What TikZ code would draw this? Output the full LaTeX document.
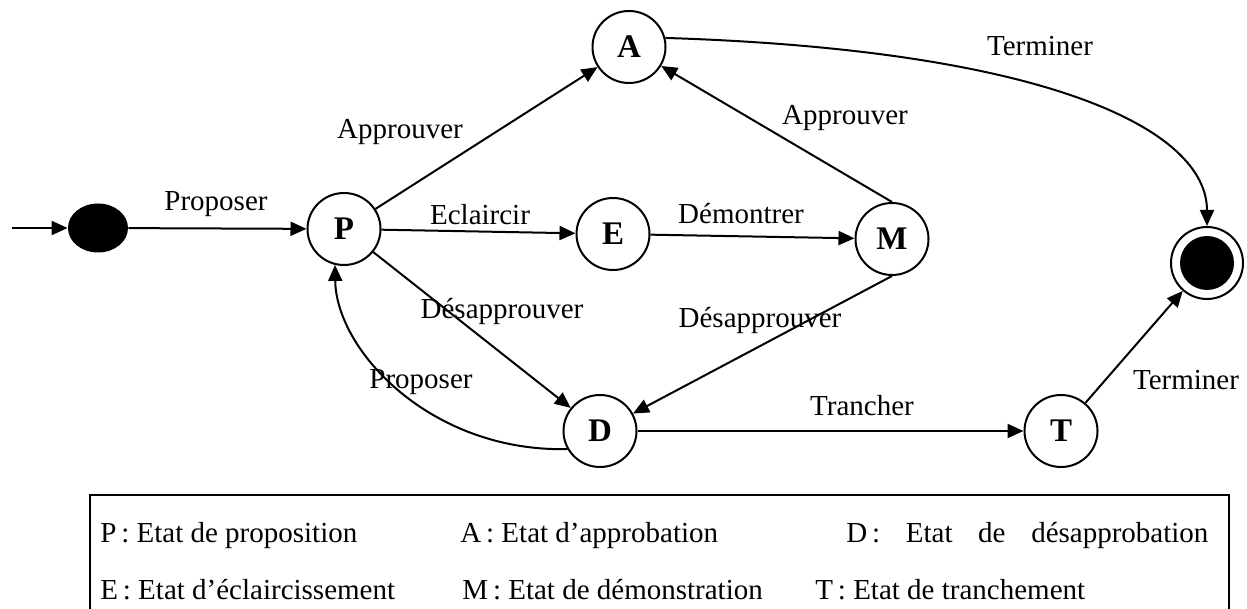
\documentclass[tikz,border=0pt]{standalone}
\usepackage{fontspec}
\setmainfont{Liberation Serif}
\usetikzlibrary{arrows.meta,shapes.geometric}
\begin{document}
\begin{tikzpicture}[x=0.5pt,y=-0.5pt,
  font=\fontsize{14.5}{17}\selectfont,
  state/.style={draw,line width=1pt,ellipse,inner sep=0pt,
    minimum width=36.5pt,minimum height=36pt,
    font=\fontsize{16.5}{18}\selectfont\bfseries},
  trans/.style={line width=1pt,-{Triangle[length=8pt,width=7pt]}},
  lbl/.style={inner sep=0pt},
  legend/.style={inner sep=0pt,anchor=base west}]
\useasboundingbox (0,0) rectangle (1247,609);

% states
\node[ellipse,fill=black,inner sep=0pt,minimum width=30pt,minimum height=24.5pt] (init) at (98,228) {};
\node[state] (P) at (344,229) {P};
\node[state] (A) at (629,47) {A};
\node[state] (E) at (613,234) {E};
\node[state] (M) at (892,239) {M};
\node[state] (D) at (600,431) {D};
\node[state] (T) at (1061,431) {T};
\node[circle,draw,line width=1pt,inner sep=0pt,minimum size=36pt] (final) at (1207,263) {};
\node[circle,fill=black,inner sep=0pt,minimum size=27pt] (finaldot) at (1207,263) {};
\coordinate (start) at (12,228);

% transitions
\draw[trans] (start) -- (init);
\draw[trans] (init) -- (P);
\draw[trans] (P) -- (A);
\draw[trans] (P) -- (E);
\draw[trans] (E) -- (M);
\draw[trans] (M.north) -- (A);
\draw[trans] (P) -- (D);
\draw[trans] (M.south) -- (D);
\draw[trans] (D) -- (T);
\draw[trans] (T) -- (final);
\draw[trans] (D.209) .. controls (430,452) and (336,350) .. (P.256);
\draw[trans] (A.14) .. controls (1050,50) and (1207,130) .. (final.north);

% transition labels
\node[lbl] (l1) at (216,204) {Proposer};
\node[lbl] (l2) at (400,132) {Approuver};
\node[lbl] (l3) at (480,215) {Eclaircir};
\node[lbl] (l4) at (741,214) {Démontrer};
\node[lbl] (l5) at (845,118) {Approuver};
\node[lbl] (l6) at (1040,46) {Terminer};
\node[lbl] (l7) at (502,312) {Désapprouver};
\node[lbl] (l8) at (760,321) {Désapprouver};
\node[lbl] (l9) at (421,382) {Proposer};
\node[lbl] (l10) at (862,406) {Trancher};
\node[lbl] (l11) at (1186,380) {Terminer};

% legend
\draw[line width=1pt] (90,620) -- (90,495) -- (1229,495) -- (1229,620);
\node[legend] (kP) at (100,542) {P\,: Etat de proposition};
\node[legend] (kA) at (460,542) {A\,: Etat d’approbation};
\node[legend] (kD) at (846,542) {\makebox[181pt][s]{D\,: Etat de désapprobation}};
\node[legend] (kE) at (100,599) {E\,: Etat d’éclaircissement};
\node[legend] (kM) at (462,599) {M\,: Etat de démonstration};
\node[legend] (kT) at (815,599) {T\,: Etat de tranchement};
\end{tikzpicture}
\end{document}
